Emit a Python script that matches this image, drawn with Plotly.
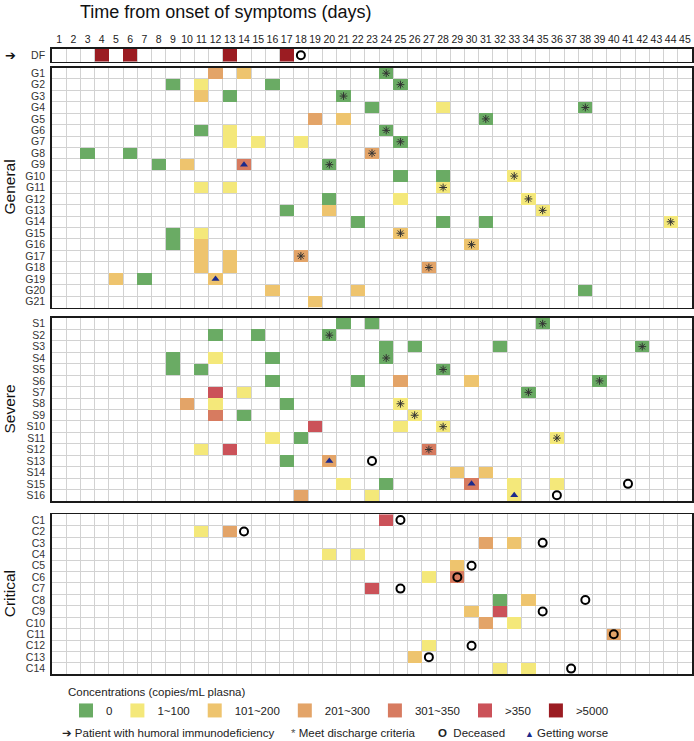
import plotly.graph_objects as go

# ---------------- data ----------------
days = list(range(1, 46))
categories = ["0", "1~100", "101~200", "201~300", "301~350", ">350", ">5000"]
category_colors = ["#6aab64", "#f4e87a", "#eec46e", "#e3a468", "#d77b60", "#cb5259", "#9b1c22"]

df_rows = ["DF"]
df_cells = {"DF": [(4, 6), (6, 6), (13, 6), (17, 6)]}

general_rows = [f"G{i}" for i in range(1, 22)]
general_cells = {
    "G1": [(12, 3), (14, 2), (24, 0)],
    "G2": [(9, 0), (11, 1), (16, 0), (25, 0)],
    "G3": [(11, 2), (13, 0), (21, 0)],
    "G4": [(23, 0), (28, 1), (38, 0)],
    "G5": [(19, 3), (21, 2), (31, 0)],
    "G6": [(11, 0), (13, 1), (24, 0)],
    "G7": [(13, 1), (15, 1), (18, 1), (25, 0)],
    "G8": [(3, 0), (6, 0), (23, 3)],
    "G9": [(8, 0), (10, 2), (14, 4), (20, 0)],
    "G10": [(25, 0), (28, 0), (33, 1)],
    "G11": [(11, 1), (13, 1), (28, 1)],
    "G12": [(20, 0), (25, 1), (34, 1)],
    "G13": [(17, 0), (20, 2), (35, 1)],
    "G14": [(22, 0), (28, 0), (31, 0), (44, 1)],
    "G15": [(9, 0), (11, 1), (25, 2)],
    "G16": [(9, 0), (11, 2), (30, 2)],
    "G17": [(11, 2), (13, 2), (18, 3)],
    "G18": [(11, 2), (13, 2), (27, 3)],
    "G19": [(5, 2), (7, 0), (12, 2)],
    "G20": [(16, 2), (22, 2), (38, 0)],
    "G21": [(19, 2)],
}

severe_rows = [f"S{i}" for i in range(1, 17)]
severe_cells = {
    "S1": [(21, 0), (23, 0), (35, 0)],
    "S2": [(12, 0), (15, 0), (20, 0)],
    "S3": [(24, 0), (26, 0), (32, 0), (42, 0)],
    "S4": [(9, 0), (12, 1), (16, 0), (24, 0)],
    "S5": [(9, 0), (11, 0), (28, 0)],
    "S6": [(16, 0), (22, 0), (25, 3), (30, 2), (39, 0)],
    "S7": [(12, 5), (14, 1), (34, 0)],
    "S8": [(10, 3), (12, 1), (17, 0), (25, 1)],
    "S9": [(12, 4), (14, 0), (26, 1)],
    "S10": [(19, 5), (25, 1), (28, 1)],
    "S11": [(16, 1), (18, 0), (36, 1)],
    "S12": [(11, 1), (13, 5), (27, 4)],
    "S13": [(17, 0), (20, 3)],
    "S14": [(29, 2), (31, 2)],
    "S15": [(21, 1), (24, 0), (30, 4), (33, 1), (36, 1)],
    "S16": [(18, 3), (23, 1), (33, 1)],
}

critical_rows = [f"C{i}" for i in range(1, 15)]
critical_cells = {
    "C1": [(24, 5)],
    "C2": [(11, 1), (13, 3)],
    "C3": [(31, 3), (33, 2)],
    "C4": [(20, 1), (22, 1)],
    "C5": [(29, 2)],
    "C6": [(27, 1), (29, 4)],
    "C7": [(23, 5)],
    "C8": [(32, 0), (34, 2)],
    "C9": [(30, 2), (32, 5)],
    "C10": [(31, 3), (33, 1)],
    "C11": [(40, 3)],
    "C12": [(27, 1)],
    "C13": [(26, 2)],
    "C14": [(32, 1), (34, 1)],
}

discharge_day = {
    "G1": 24, "G2": 25, "G3": 21, "G4": 38, "G5": 31, "G6": 24, "G7": 25, "G8": 23,
    "G9": 20, "G10": 33, "G11": 28, "G12": 34, "G13": 35, "G14": 44, "G15": 25,
    "G16": 30, "G17": 18, "G18": 27,
    "S1": 35, "S2": 20, "S3": 42, "S4": 24, "S5": 28, "S6": 39, "S7": 34, "S8": 25,
    "S9": 26, "S10": 28, "S11": 36, "S12": 27,
}
worse_day = {"G9": 14, "G19": 12, "S13": 20, "S15": 30, "S16": 33}
deceased_day = {
    "DF": 18, "S13": 23, "S15": 41, "S16": 36,
    "C1": 25, "C2": 14, "C3": 35, "C5": 30, "C6": 29, "C7": 25, "C8": 38, "C9": 35,
    "C11": 40, "C12": 30, "C13": 27, "C14": 37,
}

group_names = ["", "General", "Severe", "Critical"]

# ---------------- layout geometry ----------------
W, H = 694, 741
FONT = "Liberation Sans, Arial, Helvetica, sans-serif"
panels = [
    (df_rows, df_cells, 49.0, 61.5),
    (general_rows, general_cells, 67.5, 307.5),
    (severe_rows, severe_cells, 318.0, 501.0),
    (critical_rows, critical_cells, 514.3, 674.3),
]
x_dom = [52 / W, 692 / W]

n_cat = len(categories)
colorscale = []
for i, c in enumerate(category_colors):
    colorscale.append([i / n_cat, c])
    colorscale.append([(i + 1) / n_cat, c])

fig = go.Figure()
layout_axes = {}
half = [d - 0.5 for d in days] + [days[-1] + 0.5]

for p, (rows, cells, top, bot) in enumerate(panels):
    k = p + 1
    xa = "x" if k == 1 else f"x{k}"
    ya = "y" if k == 1 else f"y{k}"
    n = len(rows)
    z = [[None] * len(days) for _ in rows]
    for r, name in enumerate(rows):
        for d, c in cells.get(name, []):
            z[r][days.index(d)] = c
    fig.add_trace(go.Heatmap(
        x=days, y=list(range(n)), z=z, xaxis=xa, yaxis=ya,
        colorscale=colorscale, zmin=-0.5, zmax=n_cat - 0.5, showscale=False,
        hoverinfo="skip", xgap=0, ygap=0,
    ))
    for dct, sym, size, col, lw in [
        (discharge_day, "asterisk-open", 6.5, "#333333", 1.0),
        (deceased_day, "circle-open", 8, "#000000", 2.0),
        (worse_day, "triangle-up", 7, "#1b2a8c", 0),
    ]:
        xs, ys = [], []
        for r, name in enumerate(rows):
            if name in dct:
                xs.append(dct[name])
                ys.append(r)
        if xs:
            fig.add_trace(go.Scatter(
                x=xs, y=ys, xaxis=xa, yaxis=ya, mode="markers", showlegend=False,
                hoverinfo="skip",
                marker=dict(symbol=sym, size=size, color=col,
                            line=dict(color=col, width=lw)),
            ))
    key_x = "xaxis" if k == 1 else f"xaxis{k}"
    key_y = "yaxis" if k == 1 else f"yaxis{k}"
    layout_axes[key_x] = dict(
        domain=x_dom, range=[0.5, 45.5], anchor=ya,
        showgrid=False, zeroline=False,
        tickmode="array", tickvals=days, ticktext=[str(d) for d in days],
        showticklabels=(k == 1), side="top", ticks="",
        tickfont=dict(size=10.5, color="#222", family=FONT),
        minor=dict(tickmode="array", tickvals=half, showgrid=True,
                   gridcolor="#d2d2d2", gridwidth=1, ticks=""),
        showline=True, mirror=True, linecolor="#1a1a1a", linewidth=1.8,
        fixedrange=True,
    )
    if k > 1:
        layout_axes[key_x]["matches"] = "x"
    layout_axes[key_y] = dict(
        domain=[1 - bot / H, 1 - top / H], range=[n - 0.5, -0.5], anchor=xa,
        showgrid=False, zeroline=False,
        tickmode="array", tickvals=list(range(n)), ticktext=rows, ticks="",
        ticklabelstandoff=3,
        tickfont=dict(size=10.5, color="#333", family=FONT),
        minor=dict(tickmode="array", tickvals=[i - 0.5 for i in range(n + 1)],
                   showgrid=True, gridcolor="#d2d2d2", gridwidth=1, ticks=""),
        showline=True, mirror=True, linecolor="#1a1a1a", linewidth=1.8,
        fixedrange=True,
    )

# legend entries for concentrations
for cat, col in zip(categories, category_colors):
    fig.add_trace(go.Scatter(
        x=[None], y=[None], mode="markers", name=cat, showlegend=True,
        marker=dict(symbol="square", size=14, color=col),
    ))

annotations = [
    dict(text="Time from onset of symptoms (days)", x=78 / W, y=1 - 0.5 / H,
         xref="paper", yref="paper", xanchor="left", yanchor="top", showarrow=False,
         font=dict(size=18, color="#111", family=FONT)),
    dict(text="➔", x=10 / W, y=1 - 55 / H, xref="paper", yref="paper",
         xanchor="center", yanchor="middle", showarrow=False,
         font=dict(size=13, color="#111", family="DejaVu Sans")),
]
for p, (rows, cells, top, bot) in enumerate(panels):
    if group_names[p]:
        annotations.append(dict(
            text=group_names[p], x=9 / W, y=1 - (top + bot) / 2 / H,
            xref="paper", yref="paper", xanchor="center", yanchor="middle",
            textangle=-90, showarrow=False,
            font=dict(size=15.5, color="#111", family=FONT)))

bottom_items = [
    ("<span style='font-family:DejaVu Sans'>➔</span> Patient with humoral immunodeficiency", 60),
    ("<span style='color:#555'>*</span> Meet discharge criteria", 289),
    ("<b>O</b>  Deceased", 436),
    ("<span style='color:#1b2a8c;font-size:9px'>▲</span> Getting worse", 523),
]
for txt, xp in bottom_items:
    annotations.append(dict(
        text=txt, x=xp / W, y=1 - 733 / H, xref="paper", yref="paper",
        xanchor="left", yanchor="middle", showarrow=False,
        font=dict(size=11.5, color="#222", family=FONT)))

fig.update_layout(
    width=W, height=H, margin=dict(l=0, r=0, t=0, b=0),
    paper_bgcolor="white", plot_bgcolor="white",
    font=dict(family=FONT, color="#222"),
    showlegend=True,
    legend=dict(
        orientation="h", x=66 / W, y=1 - 681 / H, xanchor="left", yanchor="top",
        title=dict(text="Concentrations (copies/mL plasna)", side="top",
                   font=dict(size=11.5, color="#222", family=FONT)),
        font=dict(size=11.5, color="#222", family=FONT),
        itemwidth=30, bgcolor="rgba(0,0,0,0)", borderwidth=0,
        itemclick=False, itemdoubleclick=False,
    ),
    annotations=annotations,
    **layout_axes,
)

fig.write_html("out.html",
               config={"displayModeBar": False, "staticPlot": True},
               post_script="document.body.style.margin='0px';document.body.style.overflow='hidden';")
